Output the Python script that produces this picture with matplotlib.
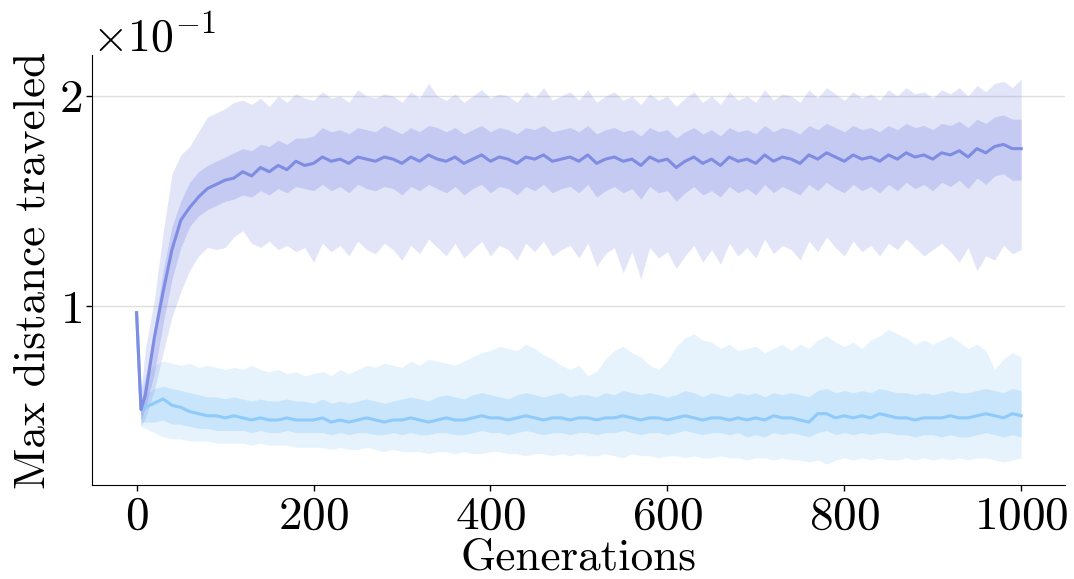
import numpy as np
import matplotlib
matplotlib.use("Agg")
import matplotlib.pyplot as plt

plt.rcParams['font.family'] = ['cmr10']
plt.rcParams['mathtext.fontset'] = 'cm'
plt.rcParams['axes.formatter.use_mathtext'] = True
plt.rcParams['axes.unicode_minus'] = False

# generations sampled: 0, 5, then every 10
gens = [0, 5] + list(range(10, 1001, 10))

# values below are in units of 1e-3
upper_mean = [97, 51,
              58, 85, 107, 127, 141, 147, 152, 156, 158, 160,
              161, 164, 162, 166, 164, 167, 165, 169, 167, 168,
              171, 169, 170, 168, 171, 170, 169, 171, 170, 168,
              171, 169, 172, 170, 169, 171, 168, 170, 172, 169,
              171, 170, 168, 171, 170, 172, 169, 170, 171, 169,
              172, 168, 170, 171, 169, 170, 167, 171, 169, 170,
              166, 169, 171, 168, 170, 167, 171, 169, 170, 168,
              172, 169, 171, 170, 168, 172, 170, 173, 171, 169,
              172, 170, 171, 169, 172, 170, 173, 171, 172, 170,
              173, 172, 174, 171, 175, 173, 176, 177, 175, 175]
upper_in_hi = [98, 55,
               65, 90, 117, 138, 150, 159, 164, 167, 169, 171,
               173, 175, 174, 177, 176, 179, 177, 180, 180, 181,
               185, 183, 184, 182, 185, 184, 183, 186, 184, 182,
               185, 183, 186, 185, 183, 185, 182, 184, 186, 183,
               185, 184, 182, 185, 184, 186, 183, 184, 185, 183,
               186, 182, 184, 185, 183, 184, 181, 185, 183, 184,
               180, 183, 185, 182, 184, 181, 185, 183, 184, 182,
               186, 183, 185, 184, 182, 186, 184, 187, 185, 183,
               186, 184, 185, 183, 186, 184, 187, 185, 186, 184,
               187, 186, 188, 185, 189, 187, 190, 191, 189, 189]
upper_in_lo = [96, 46,
               52, 68, 92, 113, 128, 138, 143, 146, 148, 150,
               151, 153, 152, 155, 153, 156, 154, 157, 156, 155,
               158, 155, 157, 154, 158, 156, 155, 157, 156, 153,
               157, 155, 158, 156, 154, 157, 153, 156, 158, 154,
               157, 156, 153, 157, 155, 158, 154, 156, 157, 154,
               158, 152, 155, 157, 154, 156, 151, 157, 154, 155,
               150, 154, 157, 153, 155, 152, 157, 154, 156, 153,
               158, 154, 157, 155, 153, 158, 155, 159, 156, 154,
               158, 155, 157, 154, 158, 155, 159, 156, 158, 155,
               159, 157, 160, 156, 161, 158, 162, 163, 160, 160]
upper_out_hi = [99, 60,
                80, 103, 135, 163, 172, 176, 183, 190, 192, 194,
                197, 198, 196, 199, 195, 200, 197, 201, 199, 198,
                202, 199, 200, 197, 203, 200, 199, 201, 200, 197,
                202, 199, 206, 200, 198, 201, 197, 200, 203, 199,
                201, 200, 197, 202, 199, 204, 198, 200, 202, 198,
                203, 197, 200, 202, 198, 200, 196, 201, 198, 200,
                195, 199, 202, 197, 200, 196, 202, 198, 200, 197,
                203, 198, 201, 200, 197, 203, 199, 204, 201, 198,
                202, 199, 201, 198, 203, 200, 204, 201, 202, 199,
                203, 201, 204, 200, 205, 202, 206, 207, 204, 208]
upper_out_lo = [95, 43,
                47, 60, 78, 95, 107, 117, 124, 128, 127, 128,
                133, 136, 130, 128, 131, 127, 129, 126, 128, 121,
                130, 126, 129, 124, 131, 127, 125, 130, 127, 122,
                129, 125, 132, 128, 124, 130, 123, 127, 131, 124,
                129, 127, 122, 130, 126, 131, 124, 127, 129, 123,
                130, 119, 125, 128, 116, 126, 113, 128, 123, 126,
                118, 124, 129, 121, 127, 120, 130, 124, 128, 123,
                132, 125, 129, 127, 122, 131, 126, 133, 128, 124,
                131, 126, 129, 124, 130, 127, 132, 128, 124, 127,
                130, 126, 121, 128, 117, 124, 122, 129, 125, 127]

lower_mean = [97, 51,
              52, 54, 56, 53, 52, 50, 49, 48, 48, 47,
              48, 47, 46, 47, 46, 46, 47, 46, 46, 46,
              47, 45, 46, 45, 46, 47, 46, 45, 46, 46,
              47, 46, 45, 46, 47, 46, 46, 47, 48, 47,
              47, 46, 47, 48, 47, 46, 47, 47, 46, 47,
              47, 46, 47, 47, 48, 47, 46, 47, 47, 46,
              47, 48, 47, 46, 47, 47, 46, 47, 46, 47,
              46, 48, 47, 47, 46, 45, 49, 49, 47, 48,
              47, 48, 47, 49, 48, 47, 47, 46, 47, 47,
              47, 48, 47, 47, 48, 49, 48, 47, 49, 48]
lower_in_hi = [98, 55,
               58, 61, 62, 61, 60, 59, 58, 57, 57, 56,
               57, 56, 55, 56, 55, 55, 56, 55, 55, 54,
               56, 54, 55, 54, 55, 56, 55, 54, 55, 56,
               57, 56, 55, 57, 58, 57, 56, 58, 59, 58,
               57, 56, 58, 59, 58, 57, 58, 59, 57, 58,
               58, 57, 59, 58, 60, 59, 58, 59, 58, 57,
               58, 60, 59, 57, 59, 58, 57, 59, 58, 59,
               57, 59, 58, 59, 58, 57, 60, 61, 59, 60,
               59, 60, 59, 61, 60, 59, 59, 58, 59, 58,
               59, 60, 59, 59, 60, 61, 60, 59, 61, 60]
lower_in_lo = [96, 45,
               45, 45, 46, 44, 44, 43, 42, 42, 41, 41,
               41, 41, 40, 41, 40, 40, 41, 40, 40, 40,
               40, 39, 40, 39, 40, 40, 39, 39, 40, 39,
               40, 39, 39, 40, 40, 39, 39, 40, 41, 40,
               40, 39, 40, 41, 40, 39, 40, 40, 39, 40,
               40, 39, 40, 40, 41, 40, 39, 40, 40, 39,
               40, 41, 40, 39, 40, 40, 39, 40, 38, 39,
               38, 40, 39, 40, 39, 38, 40, 41, 39, 40,
               39, 40, 39, 40, 40, 39, 39, 38, 39, 39,
               38, 39, 38, 38, 39, 40, 39, 38, 39, 38]
lower_out_hi = [99, 60,
                68, 72, 74, 73, 72, 73, 71, 72, 71, 70,
                71, 70, 72, 70, 69, 70, 68, 69, 67, 68,
                69, 67, 70, 68, 70, 72, 71, 73, 72, 71,
                74, 72, 75, 74, 73, 72, 74, 76, 78, 79,
                81, 80, 79, 82, 80, 77, 75, 72, 70, 72,
                67, 69, 75, 79, 81, 78, 76, 72, 70, 74,
                81, 85, 87, 84, 83, 80, 82, 79, 80, 81,
                78, 80, 82, 79, 82, 80, 84, 86, 83, 81,
                83, 80, 84, 86, 89, 87, 85, 82, 84, 82,
                84, 86, 83, 80, 82, 79, 70, 75, 78, 76]
lower_out_lo = [95, 43,
                42, 40, 38, 37, 37, 36, 36, 36, 35, 35,
                35, 35, 34, 35, 34, 34, 34, 33, 33, 33,
                33, 32, 33, 32, 32, 33, 32, 31, 32, 31,
                31, 31, 30, 31, 31, 30, 31, 30, 30, 31,
                31, 30, 30, 29, 30, 30, 29, 30, 29, 30,
                29, 29, 30, 29, 28, 30, 29, 29, 28, 29,
                29, 28, 29, 28, 28, 29, 28, 28, 27, 28,
                28, 27, 28, 27, 27, 26, 27, 25, 27, 28,
                27, 28, 27, 28, 27, 27, 28, 27, 28, 27,
                28, 27, 28, 27, 28, 28, 27, 26, 27, 28]

s = 1e-3
x = np.array(gens)

fig = plt.figure(figsize=(10.74, 5.79), dpi=100)
ax = fig.add_axes([0.086, 0.162, 0.906, 0.743])

# lower series (light blue)
c2 = '#8ecbfa'
ax.fill_between(x, np.array(lower_out_lo) * s, np.array(lower_out_hi) * s, color=c2, alpha=0.22, lw=0)
ax.fill_between(x, np.array(lower_in_lo) * s, np.array(lower_in_hi) * s, color=c2, alpha=0.33, lw=0)
ax.plot(x, np.array(lower_mean) * s, color=c2, lw=2.2)

# upper series (blue-violet)
c1 = '#7f8ce3'
ax.fill_between(x, np.array(upper_out_lo) * s, np.array(upper_out_hi) * s, color=c1, alpha=0.22, lw=0)
ax.fill_between(x, np.array(upper_in_lo) * s, np.array(upper_in_hi) * s, color=c1, alpha=0.3, lw=0)
ax.plot(x, np.array(upper_mean) * s, color=c1, lw=2.2)

ax.set_xlim(-50, 1050)
ax.set_ylim(0.015, 0.2195)
ax.set_xticks([0, 200, 400, 600, 800, 1000])
ax.set_yticks([0.1, 0.2])
ax.ticklabel_format(axis='y', style='sci', scilimits=(0, 0))
ax.yaxis.get_offset_text().set_fontsize(33)
ax.tick_params(labelsize=34, length=4, width=1)
ax.grid(axis='y', color='#e0e0e0', lw=1)
ax.set_axisbelow(True)
ax.spines['top'].set_visible(False)
ax.spines['right'].set_visible(False)
ax.set_xlabel("Generations", fontsize=32.5, labelpad=1)
ax.set_ylabel("Max distance traveled", fontsize=32.5, labelpad=4)

plt.savefig("out.png", dpi=100)
